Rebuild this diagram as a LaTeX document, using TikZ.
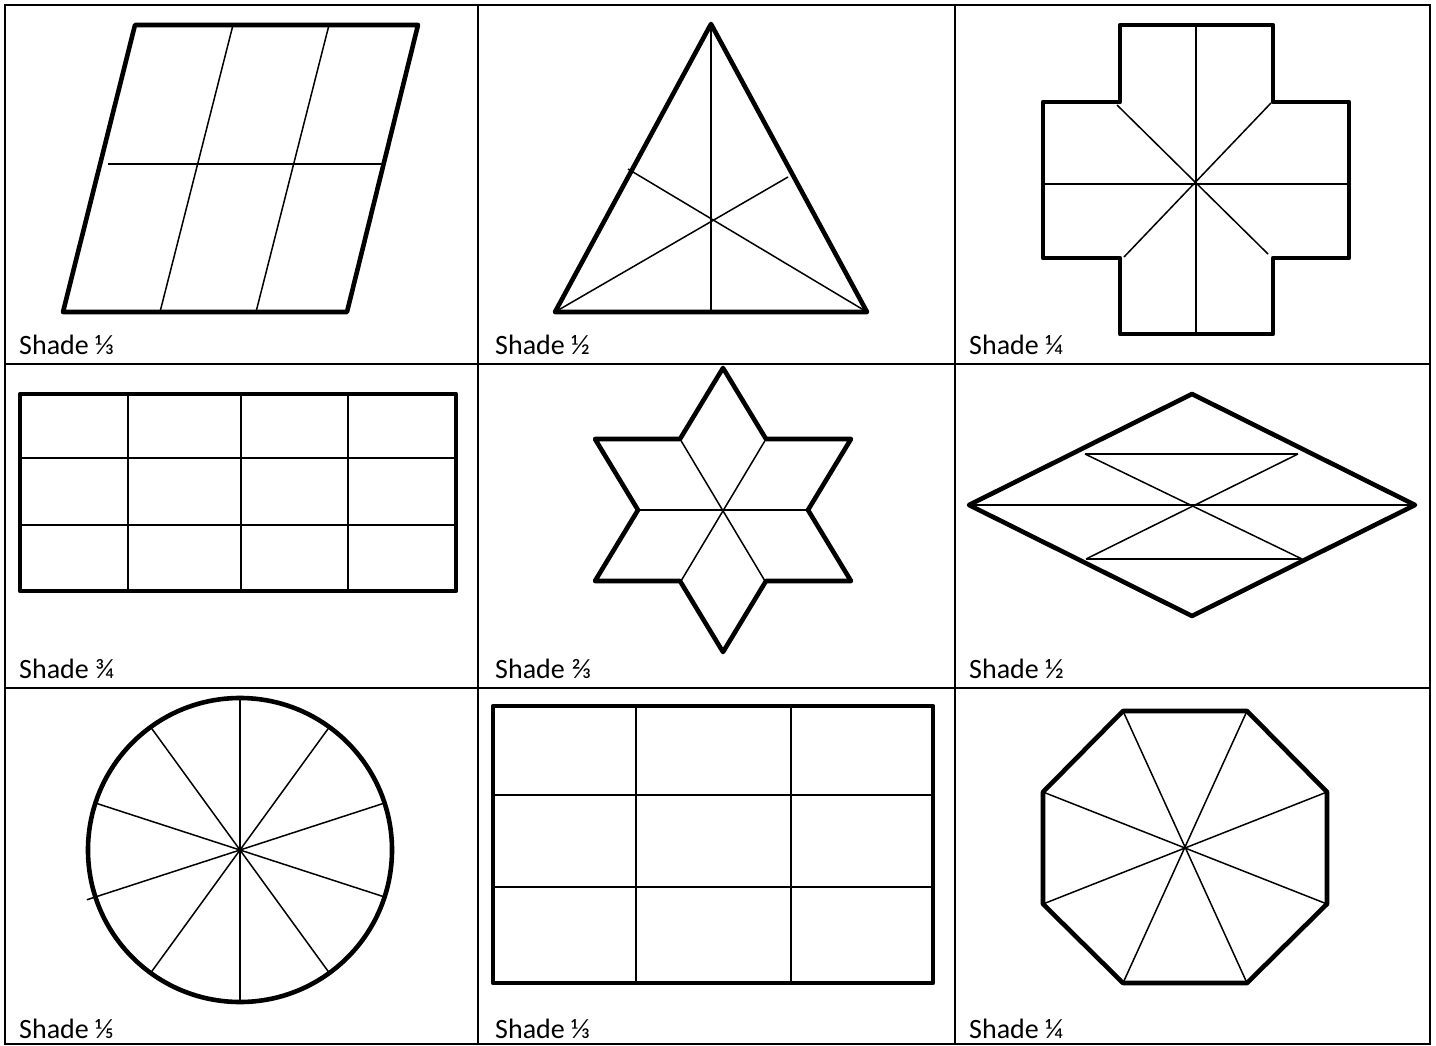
\documentclass[tikz,border=0pt]{standalone}
\usepackage{fontspec}
\setmainfont{Carlito}
\begin{document}
\begin{tikzpicture}[x=1pt,y=-1pt,
  grid/.style={line width=1.6pt},
  outline/.style={line width=4.6pt,line join=round,line cap=round},
  part/.style={line width=1.5pt},
  lbl/.style={anchor=base west,inner sep=0pt,font=\fontsize{28}{32}\selectfont}]
\useasboundingbox (0,0) rectangle (1436,1046);
% table
\draw[grid] (5,5) rectangle (1430,1044);
\draw[grid] (478,5) -- (478,1044);
\draw[grid] (955,5) -- (955,1044);
\draw[grid] (5,364) -- (1430,364);
\draw[grid] (5,688) -- (1430,688);
% labels
\node[lbl] (l1) at (19,354) {Shade ⅓};
\node[lbl] (l2) at (495,354) {Shade ½};
\node[lbl] (l3) at (969,354) {Shade ¼};
\node[lbl] (l4) at (19,678) {Shade ¾};
\node[lbl] (l5) at (495,678) {Shade ⅔};
\node[lbl] (l6) at (969,678) {Shade ½};
\node[lbl] (l7) at (19,1038) {Shade ⅕};
\node[lbl] (l8) at (495,1038) {Shade ⅓};
\node[lbl] (l9) at (969,1038) {Shade ¼};
% 1: parallelogram
\draw[part] (233,25) -- (160,312);
\draw[part] (329,25) -- (256,312);
\draw[part] (108,164) -- (382,164);
\draw[outline] (135,25) -- (418,25) -- (347,312) -- (63,312) -- cycle;
% 2: triangle
\draw[part] (711,24) -- (711,312);
\draw[part] (555,312) -- (788,177);
\draw[part] (867,312) -- (628,169);
\draw[outline] (711,24) -- (867,312) -- (555,312) -- cycle;
% 3: cross
\draw[part] (1196,25) -- (1196,334);
\draw[part] (1043,184) -- (1349,184);
\draw[part] (1117,105) -- (1268,254);
\draw[part] (1271,103) -- (1124,257);
\draw[outline] (1120,25) -- (1273,25) -- (1273,102) -- (1349,102) -- (1349,258) -- (1273,258) -- (1273,334) -- (1120,334) -- (1120,258) -- (1043,258) -- (1043,102) -- (1120,102) -- cycle;
% 4: rectangle 4x3
\draw[part] (128,394) -- (128,591);
\draw[part] (241,394) -- (241,591);
\draw[part] (348,394) -- (348,591);
\draw[part] (20,458) -- (456,458);
\draw[part] (20,525) -- (456,525);
\draw[outline] (20,394) rectangle (456,591);
% 5: star
\draw[part] (680,439) -- (765,581);
\draw[part] (766,439) -- (681,581);
\draw[part] (638,510) -- (806,510);
\draw[outline] (723,368) -- (766,439) -- (851,439) -- (808,510) -- (851,581) -- (766,581) -- (723,652) -- (680,581) -- (595,581) -- (638,510) -- (595,439) -- (680,439) -- cycle;
% 6: rhombus
\draw[part] (969,505) -- (1415,505);
\draw[part] (1085,454) -- (1298,454);
\draw[part] (1086,559) -- (1302,559);
\draw[part] (1085,454) -- (1302,559);
\draw[part] (1298,454) -- (1086,559);
\draw[outline] (969,505) -- (1192,394) -- (1415,505) -- (1192,616) -- cycle;
% 7: circle in tenths
\coordinate (cc) at (240,850);
\foreach \a in {18,54,90,126,162,234,270,306,342}
  \draw[part] (cc) -- ++({152*cos(\a)},{-152*sin(\a)});
\draw[part] (cc) -- ++({161*cos(198)},{-161*sin(198)});
\draw[outline] (cc) circle[radius=152];
% 8: rectangle 3x3
\draw[part] (636,706) -- (636,983);
\draw[part] (791,706) -- (791,983);
\draw[part] (493,795) -- (933,795);
\draw[part] (493,887) -- (933,887);
\draw[outline] (493,706) rectangle (933,983);
% 9: octagon
\coordinate (o1) at (1123,711);
\coordinate (o2) at (1247,711);
\coordinate (o3) at (1327,792);
\coordinate (o4) at (1327,904);
\coordinate (o5) at (1247,983);
\coordinate (o6) at (1123,983);
\coordinate (o7) at (1043,904);
\coordinate (o8) at (1043,792);
\draw[part] (o1) -- (o5);
\draw[part] (o2) -- (o6);
\draw[part] (o3) -- (o7);
\draw[part] (o4) -- (o8);
\draw[outline] (o1) -- (o2) -- (o3) -- (o4) -- (o5) -- (o6) -- (o7) -- (o8) -- cycle;
\end{tikzpicture}
\end{document}
